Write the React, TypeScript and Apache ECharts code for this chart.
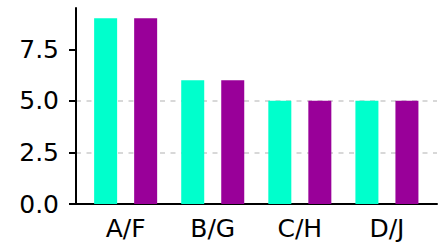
import React, { useEffect, useRef } from "react";
import * as echarts from "echarts";

const categories = ["A/F", "B/G", "C/H", "D/J"];
const seriesA = [9, 6, 5, 5];
const seriesB = [9, 6, 5, 5];
const yTicks = [0, 2.5, 5, 7.5];

export default function App() {
  const ref = useRef<HTMLDivElement>(null);
  useEffect(() => {
    const chart = echarts.init(ref.current!, null, { renderer: "svg" });
    const pos = categories.map((_, i) => i);
    chart.setOption({
      animation: false,
      grid: { left: 76, right: 8, top: 8, bottom: 46, containLabel: false },
      xAxis: {
        type: "value",
        min: -0.57,
        max: 3.575,
        axisLine: { show: true, onZero: false, lineStyle: { color: "#000", width: 2 } },
        axisTick: { show: false },
        splitLine: { show: false },
        axisLabel: {
          customValues: pos,
          formatter: (v: number) => categories[Math.round(v)] ?? "",
          color: "#000",
          fontFamily: "DejaVu Sans",
          fontSize: 25,
          margin: 12,
        },
      },
      yAxis: {
        type: "value",
        min: 0,
        max: 9.5,
        interval: 2.5,
        axisLine: { show: true, onZero: false, lineStyle: { color: "#000", width: 2 } },
        axisTick: { show: true, customValues: yTicks, length: 7, lineStyle: { color: "#000", width: 2 } },
        axisLabel: {
          customValues: yTicks,
          formatter: (v: number) => v.toFixed(1),
          color: "#000",
          fontFamily: "DejaVu Sans",
          fontSize: 25,
          margin: 17,
        },
        splitLine: {
          show: true,
          showMaxLine: false,
          lineStyle: { color: "#cccccc", type: [5, 5.5], width: 1.5 },
        },
      },
      series: [
        {
          type: "bar",
          data: pos.map((p, i) => [p, seriesA[i]]),
          barWidth: 23,
          barGap: "74%",
          itemStyle: { color: "#00ffcc" },
        },
        {
          type: "bar",
          data: pos.map((p, i) => [p, seriesB[i]]),
          barWidth: 23,
          barGap: "74%",
          itemStyle: { color: "#990099" },
        },
      ],
    });
    return () => chart.dispose();
  }, []);
  return <div ref={ref} style={{ width: 445, height: 250, position: "absolute", left: 0, top: 0 }} />;
}
